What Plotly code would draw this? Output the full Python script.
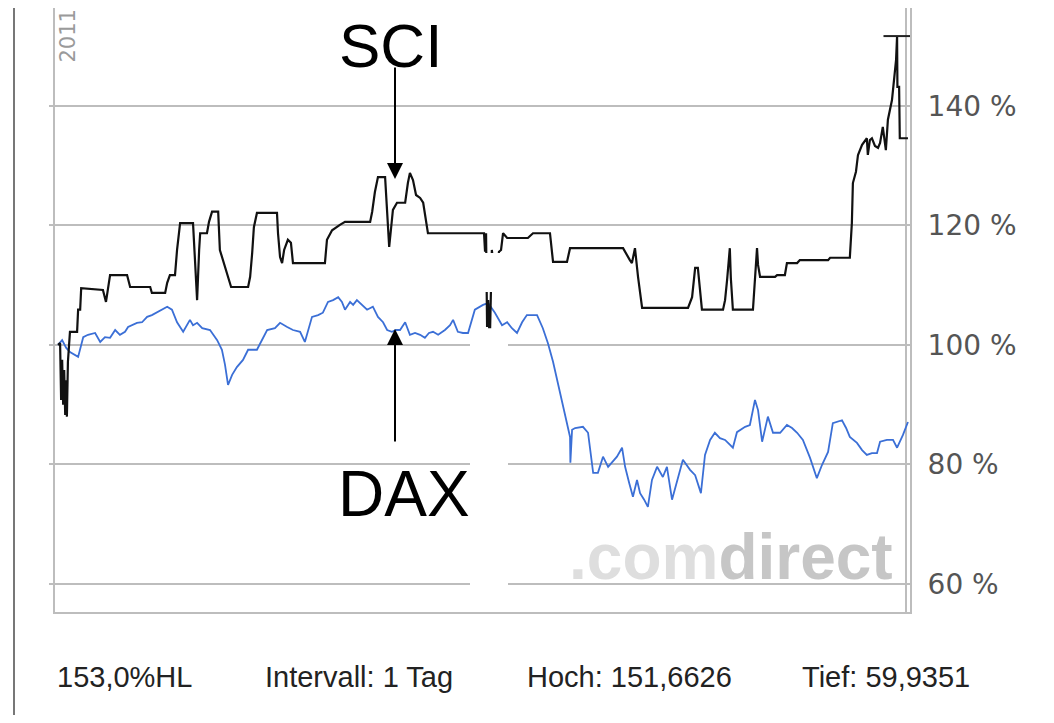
import plotly.graph_objects as go

# ---------------- data ----------------
# x = trading day of 2011 (0 .. 250), y = performance in % (start = 100 %)
sci_day = [0, 0.6, 0.9, 1.2, 1.5, 1.8, 2.1, 2.4, 2.6, 2.9, 3.5, 5.6, 5.9, 6.5, 6.8,
           13.2, 14.1, 15.3, 20.3, 21.2, 27.1, 27.6, 31.5, 32.1, 32.9, 34.4, 35.0, 35.9,
           39.7, 40.3, 40.6, 40.9, 41.5, 41.8, 43.8, 44.4, 45.3, 47.1, 47.6, 48.8, 50.0,
           50.9, 55.9, 56.5, 57.1, 57.6, 58.5, 64.4, 64.7, 65.3, 65.9, 66.5, 67.6, 68.5,
           69.1, 78.5, 79.1, 80.6, 82.9, 84.4, 91.8, 92.4, 93.2, 94.1, 96.2, 96.8, 97.4,
           97.9, 98.5, 99.7, 102.1, 102.9, 103.5, 104.4, 105.3, 106.5, 107.4, 108.8,
           125.3, 125.6, 125.9, 126.2, 126.5, 126.8, 127.1, 127.6, 128.2, 129.1, 129.7,
           130.3, 130.9, 132.1, 138.2, 139.7, 144.7, 145.6, 149.7, 150.6, 166.2, 168.2,
           168.8, 169.7, 170.6, 171.8, 185.3, 186.5, 187.4, 188.2, 188.8, 189.4, 195.6,
           196.2, 196.8, 197.6, 197.9, 198.5, 204.4, 205.0, 205.6, 205.9, 206.5, 210.9,
           211.5, 213.8, 214.4, 217.4, 218.2, 226.5, 227.1, 232.9, 233.5, 233.8, 234.7,
           235.3, 236.5, 237.9, 238.2, 238.8, 239.4, 240.3, 241.2, 241.8, 242.6, 243.5,
           244.1, 245.3, 245.9, 246.5, 246.8, 246.9, 247.4, 247.6, 250.0]
sci_pct = [100.0, 100.3, 90.8, 97.5, 90.0, 95.8, 88.3, 94.1, 88.0, 97.2, 102.2, 102.2, 105.9, 105.9, 109.5,
           109.2, 107.2, 111.7, 111.7, 109.7, 109.7, 108.7, 108.7, 110.4, 111.7, 111.7, 115.9, 120.4,
           120.4, 113.7, 108.4, 107.5, 115.9, 118.7, 118.7, 120.6, 122.3, 122.3, 115.9, 113.7, 111.7,
           109.7, 109.7, 111.4, 115.4, 119.7, 122.1, 122.1, 118.7, 114.7, 113.7, 115.9, 117.6, 117.1,
           113.7, 113.7, 117.6, 119.2, 120.1, 120.6, 120.6, 122.3, 125.6, 128.1, 128.1, 122.3, 116.4,
           119.2, 122.6, 123.8, 123.8, 127.1, 128.8, 127.6, 125.1, 124.6, 123.8, 118.7,
           118.7, 115.6, 118.7, 103.0, 107.5, 103.0, 103.0, 115.9, 112.6, 112.6, 115.6,
           115.9, 118.7, 117.9, 117.9, 118.7, 118.7, 113.9, 113.9, 116.2, 116.2, 114.2,
           113.7, 116.2, 111.4, 106.2, 106.2, 108.0, 112.9, 112.9, 109.2, 105.9, 105.9,
           107.5, 110.9, 116.2, 111.2, 105.9, 105.9, 110.9, 116.2, 113.4, 111.4, 111.4,
           111.7, 111.7, 113.7, 113.7, 114.2, 114.2, 114.6, 114.6, 120.4, 127.1, 129.0,
           131.8, 133.5, 134.6, 131.8, 134.3, 134.6, 133.3, 133.0, 133.8, 136.5, 132.6,
           137.7, 141.0, 144.0, 147.7, 151.7, 143.2, 143.2, 134.6, 134.6]

dax_day = [0, 1.2, 2.4, 3.5, 5.9, 7.4, 8.8, 10.9, 12.4, 13.8, 15.3, 16.8, 18.2, 19.7, 20.6,
           23.2, 24.7, 26.2, 27.6, 29.1, 30.6, 32.1, 33.5, 35.0, 36.8, 37.9, 38.8, 39.7,
           40.9, 42.4, 44.7, 46.8, 48.2, 49.1, 50.0, 51.2, 52.6, 54.4, 55.9, 58.5, 60.3,
           61.5, 63.8, 65.3, 67.4, 69.1, 71.2, 72.6, 74.7, 76.5, 77.9, 79.4, 80.9, 82.4,
           83.5, 84.4, 85.9, 86.8, 87.9, 89.4, 90.9, 92.6, 94.1, 95.6, 96.8, 98.2, 99.4,
           100.6, 102.1, 103.5, 105.0, 106.5, 107.9, 109.1, 110.3, 111.8, 113.8, 115.3,
           116.2, 117.6, 119.1, 120.6, 122.6, 125.0, 126.5, 128.5, 130.6, 132.1, 133.5,
           135.0, 136.5, 137.9, 140.9, 142.6, 144.1, 145.6, 146.8, 147.9, 149.1, 150.6,
           150.7, 151.2, 152.1, 154.4, 155.9, 156.5, 157.4, 158.8, 160.3, 161.8, 162.9,
           164.4, 165.9, 166.8, 168.0, 169.1, 170.3, 171.2, 172.4, 173.5, 174.7, 176.2,
           177.9, 179.1, 180.6, 182.4, 183.8, 185.9, 187.4, 189.1, 190.3, 191.8, 193.2,
           194.7, 196.2, 197.6, 198.5, 199.7, 202.1, 203.5, 205.0, 205.9, 207.1, 208.8,
           210.3, 212.4, 214.4, 215.9, 217.4, 219.1, 221.2, 223.2, 224.7, 226.5, 227.9,
           230.6, 231.8, 232.9, 235.0, 236.5, 237.9, 239.4, 240.9, 241.8, 243.8, 245.6,
           246.8, 248.5, 250.0]
dax_pct = [100.0, 100.8, 99.5, 98.8, 98.0, 101.3, 101.7, 102.0, 100.5, 101.3, 101.2, 102.5, 101.7, 102.2, 103.0,
           103.7, 103.8, 104.7, 105.0, 105.5, 106.0, 106.4, 105.9, 103.8, 102.2, 103.3, 104.2, 103.3,
           103.7, 102.8, 102.5, 100.8, 99.2, 96.7, 93.3, 95.0, 96.3, 97.5, 99.2, 99.2, 101.3,
           102.5, 102.8, 103.7, 103.0, 102.5, 102.2, 100.5, 104.7, 105.0, 105.4, 107.2, 107.5, 108.0,
           107.2, 105.9, 107.2, 106.7, 107.5, 106.7, 105.9, 106.4, 104.7, 103.8, 102.5, 102.2, 102.5,
           102.5, 103.8, 101.7, 102.0, 101.7, 101.2, 102.0, 102.2, 101.7, 102.5, 103.3,
           104.2, 102.2, 102.0, 102.0, 105.9, 106.7, 107.0, 105.4, 103.3, 103.8, 102.8,
           102.0, 103.8, 105.0, 105.0, 102.8, 100.3, 97.2, 94.1, 91.3, 88.6, 84.6,
           80.3, 85.8, 86.1, 86.3, 85.3, 82.4, 78.6, 78.6, 81.3, 79.6, 80.4,
           81.3, 82.8, 79.6, 76.9, 74.6, 77.4, 75.2, 74.1, 72.9, 77.4, 79.6,
           77.9, 79.6, 74.1, 77.9, 80.8, 79.1, 78.2, 75.2, 81.6, 84.1, 85.3,
           84.4, 84.1, 83.3, 82.8, 85.4, 86.3, 86.6, 90.8, 89.1, 83.8, 88.0,
           85.3, 85.3, 86.6, 86.1, 85.3, 84.1, 81.1, 77.7, 79.9, 82.1, 86.9,
           87.4, 86.1, 84.6, 83.6, 82.4, 81.6, 81.9, 81.9, 83.8, 84.1, 84.1,
           82.8, 84.9, 87.1]

y_ticks = [60, 80, 100, 120, 140]
y_tick_labels = ["60 %", "80 %", "100 %", "120 %", "140 %"]
year_label = "2011"
series_labels = ["SCI", "DAX"]
footer_texts = ["153,0%HL", "Intervall: 1 Tag", "Hoch: 151,6626", "Tief: 59,9351"]

# ---------------- layout constants ----------------
# the page body has an 8px default margin, so page pixel p -> figure pixel p - OFF
OFF = 8
W, H = 1038, 707
PLOT_L, PLOT_R, PLOT_T, PLOT_B = 55, 910, 8, 612      # page pixels
L, R, T, B = PLOT_L - OFF, W - (PLOT_R - OFF), PLOT_T - OFF, H - (PLOT_B - OFF)
PW, PH = PLOT_R - PLOT_L, PLOT_B - PLOT_T
X_RANGE = [-0.9, 250.6]
Y_RANGE = [55.3, 156.4]
GRID = "#bdbdbd"


def px_x(p):  # page pixel -> paper x
    return (p - PLOT_L) / PW


def px_y(p):  # page pixel -> paper y
    return (PLOT_B - p) / PH


def inv_x(p):  # page pixel -> data x
    return X_RANGE[0] + (p - PLOT_L) / PW * (X_RANGE[1] - X_RANGE[0])


def inv_y(p):  # page pixel -> data y
    return Y_RANGE[1] - (p - PLOT_T) / PH * (Y_RANGE[1] - Y_RANGE[0])


fig = go.Figure()
fig.add_trace(go.Scatter(x=dax_day, y=dax_pct, mode="lines", name="DAX",
                         line=dict(color="#3b6fd6", width=1.8), yaxis="y",
                         hoverinfo="skip"))
fig.add_trace(go.Scatter(x=sci_day, y=sci_pct, mode="lines", name="SCI",
                         line=dict(color="#111111", width=2.2), yaxis="y2",
                         hoverinfo="skip"))

shapes = []
# white boxes that hide parts of the chart (as in the reference)
for (y0, y1) in [(253, 292), (337, 595)]:
    shapes.append(dict(type="rect", xref="x", yref="y",
                       x0=inv_x(470), x1=inv_x(508), y0=inv_y(y1), y1=inv_y(y0),
                       fillcolor="white", line=dict(width=0), layer="above"))
# inner right frame line
shapes.append(dict(type="line", xref="x", yref="paper", x0=inv_x(906), x1=inv_x(906),
                   y0=0, y1=1, line=dict(color=GRID, width=2), layer="below"))
# high marker
hi_idx = sci_pct.index(max(sci_pct))
shapes.append(dict(type="line", xref="x", yref="y", x0=sci_day[hi_idx] - 4, x1=X_RANGE[1],
                   y0=max(sci_pct), y1=max(sci_pct), line=dict(color="#222", width=2)))
# outer screenshot border line
shapes.append(dict(type="line", xref="paper", yref="paper", x0=px_x(14), x1=px_x(14),
                   y0=px_y(8), y1=px_y(H + OFF), line=dict(color="#777777", width=2)))

annotations = []
# year label
annotations.append(dict(text=year_label, xref="paper", yref="paper", x=px_x(67), y=1.0,
                        xanchor="center", yanchor="top", textangle=-90, showarrow=False,
                        font=dict(family="DejaVu Sans", size=21, color="#9a9a9a")))
# watermark
annotations.append(dict(text='<span style="color:#dedede">.com</span>'
                             '<span style="color:#c6c6c6">direct</span>',
                        xref="paper", yref="paper", x=px_x(895), y=px_y(595),
                        xanchor="right", yanchor="bottom", showarrow=False,
                        font=dict(family="Liberation Sans", size=64, color="#cccccc",
                                  weight="bold")))
# series labels
annotations.append(dict(text=series_labels[0], xref="paper", yref="paper", x=px_x(390),
                        y=px_y(45), xanchor="center", yanchor="middle", showarrow=False,
                        font=dict(family="Liberation Sans", size=62, color="black")))
annotations.append(dict(text=series_labels[1], xref="paper", yref="paper", x=px_x(404),
                        y=px_y(494), xanchor="center", yanchor="middle", showarrow=False,
                        font=dict(family="Liberation Sans", size=64, color="black")))
# arrows
annotations.append(dict(text="", x=inv_x(395), y=inv_y(179), xref="x", yref="y",
                        ax=0, ay=-113, showarrow=True, arrowhead=2, arrowsize=1.6,
                        arrowwidth=2, arrowcolor="black", standoff=0))
annotations.append(dict(text="", x=inv_x(395), y=inv_y(329), xref="x", yref="y",
                        ax=0, ay=114, showarrow=True, arrowhead=2, arrowsize=1.6,
                        arrowwidth=2, arrowcolor="black", standoff=0))
# footer
for txt, xp in zip(footer_texts, [55, 263, 525, 800]):
    annotations.append(dict(text=txt, xref="paper", yref="paper", x=px_x(xp), y=px_y(677),
                            xanchor="left", yanchor="middle", showarrow=False,
                            font=dict(family="Liberation Sans", size=29, color="#222222")))

axis_common = dict(range=Y_RANGE, tickvals=y_ticks, zeroline=False)
fig.update_layout(
    width=W, height=H,
    margin=dict(l=L, r=R, t=T, b=B, pad=0),
    paper_bgcolor="white", plot_bgcolor="white",
    showlegend=False,
    font=dict(family="Liberation Sans"),
    xaxis=dict(range=X_RANGE, showgrid=False, zeroline=False, showticklabels=False,
               ticks="", showline=True, linecolor=GRID, linewidth=2),
    yaxis=dict(side="right", ticktext=y_tick_labels, showgrid=True, gridcolor=GRID,
               gridwidth=2, showline=True, linecolor=GRID, linewidth=2, ticks="",
               ticklabelstandoff=10,
               tickfont=dict(family="DejaVu Sans", size=28, color="#555555"),
               **axis_common),
    yaxis2=dict(overlaying="y", side="left", showgrid=False, showticklabels=False,
                showline=True, linecolor=GRID, linewidth=2, ticks="outside", ticklen=4,
                tickcolor=GRID, tickwidth=2, **axis_common),
    shapes=shapes,
    annotations=annotations,
)

fig.write_html("out.html")
